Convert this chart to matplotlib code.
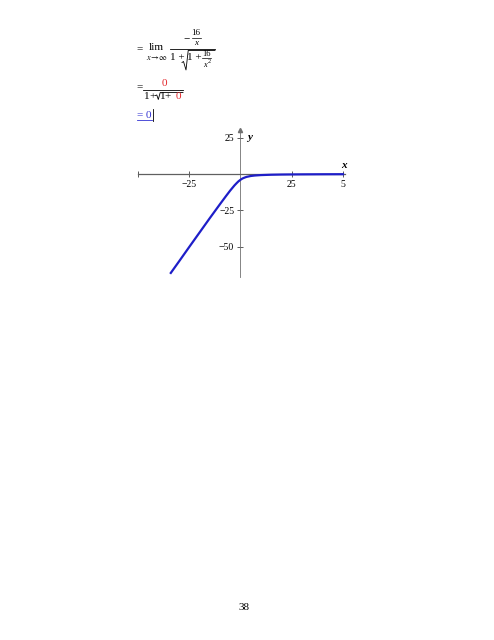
import numpy as np
import matplotlib
matplotlib.use('Agg')
import matplotlib.pyplot as plt
from matplotlib.lines import Line2D

plt.rcParams['font.family'] = ['Liberation Serif', 'DejaVu Serif']
plt.rcParams['mathtext.fontset'] = 'stix'

# curve
xs = [-34, -30, -25, -20, -15, -10, -7, -5, -3, -2, -1, 0, 1, 2, 3, 5, 7, 10, 15, 20, 25, 30, 40, 50]
ys = [-68.2, -60.3, -50.3, -40.4, -30.5, -20.8, -15.1, -11.4, -8.0, -6.5, -5.1, -4.0, -3.1, -2.5, -2.0,
      -1.4, -1.06, -0.77, -0.52, -0.39, -0.32, -0.27, -0.2, -0.16]

xticks = [-50, -25, 25, 50]
xtick_labels = ['', '\u221225', '25', '5']
yticks = [25, -25, -50]
ytick_labels = ['25', '\u221225', '\u221250']

W, H = 494, 640
RED = '#e3262b'
BLUE = '#3232d2'
fig = plt.figure(figsize=(W / 100, H / 100), dpi=100)

def fx(px):
    return px / W

def fy(py):
    return 1 - py / H

def txt(px, py, s, size=8, color='black', ha='center', style='normal'):
    fig.text(fx(px), fy(py), s, fontsize=size, color=color, ha=ha, va='center', style=style)

def line(pxs, pys, color='black', lw=0.6):
    fig.add_artist(Line2D([fx(p) for p in pxs], [fy(p) for p in pys], color=color, lw=lw))

# ---- first line: = lim (-16/x) / (1 + sqrt(1 + 16/x^2))
txt(139.5, 48.5, '=')
txt(156.5, 48, 'lim')
txt(157, 57.5, r'$x\!\rightarrow\!\infty$', size=6)
line([170, 215], [48.5, 48.5])
txt(187, 40, '\u2212')
txt(196, 33, '16', size=6.5)
line([192, 200.5], [37.5, 37.5], lw=0.5)
txt(196, 43, 'x', size=6.5, style='italic')
txt(177, 57, '1 +')
line([182, 183.5, 186, 188.2, 215], [62.5, 61.5, 70, 50.5, 50.5], lw=0.6)
txt(194.5, 57, '1 +')
txt(206, 53.5, '16', size=6)
line([201.5, 211], [58, 58], lw=0.5)
txt(205, 65, 'x', size=6, style='italic')
txt(209.5, 61.5, '2', size=4.5)

# ---- second line: = 0 / (1 + sqrt(1 + 0))
txt(140, 87, '=')
line([143, 182.5], [89.5, 89.5])
txt(164, 83.5, '0', color=RED)
txt(147, 96.5, '1')
txt(152.5, 96.5, '+')
line([155.5, 156.8, 158.3, 160.2, 183], [95.5, 95, 99.5, 92.5, 92.5], lw=0.6)
txt(162.5, 96.5, '1')
txt(168, 96.5, '+')
txt(178, 96.5, '0', color=RED)

# ---- third line: blue underlined result with cursor
txt(140, 115, '=', color=BLUE)
txt(148, 115, '0', color=BLUE)
line([136.5, 152], [119.5, 119.5], color=BLUE)
line([153, 153], [108.5, 120.5])

# ---- plot
ax = fig.add_axes([fx(138), fy(277), fx(345 - 138), (277 - 130) / H])
ax.set_xlim(-50, 51)
ax.set_ylim(-71, 30.3)
ax.patch.set_alpha(0)
for s in ['top', 'right']:
    ax.spines[s].set_visible(False)
ax.spines['left'].set_position(('data', 0))
ax.spines['bottom'].set_position(('data', 0))
ax.spines['left'].set_color('#707070')
ax.spines['bottom'].set_color('#606060')
ax.spines['left'].set_linewidth(0.6)
ax.spines['bottom'].set_linewidth(0.9)

ax.plot(xs, ys, color='#1e1ec8', lw=1.6, zorder=3)

ax.set_xticks(xticks)
ax.set_xticklabels(xtick_labels)
ax.set_yticks(yticks)
ax.set_yticklabels(ytick_labels)
ax.tick_params(axis='both', direction='inout', length=5, width=0.6, colors='#404040',
               labelsize=7, pad=2)
for lab in ax.get_xticklabels() + ax.get_yticklabels():
    lab.set_color('black')

# arrow at the top of the y axis
ax.plot([0], [30.3], marker='^', markersize=3, color='#707070', clip_on=False)

ax.text(50.5, 2.5, 'x', fontsize=8, style='italic', fontweight='bold', ha='center', va='bottom')
ax.text(3, 25, 'y', fontsize=8, style='italic', fontweight='bold', ha='left', va='center')

# page number
fig.text(fx(244), fy(607), '38', fontsize=8, ha='center', va='center')

fig.savefig('out.png', dpi=100)
